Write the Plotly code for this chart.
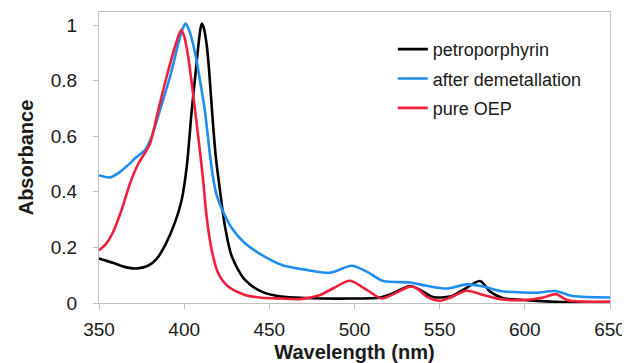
import plotly.graph_objects as go

# Wavelength (nm) sample points and absorbance values for each series
wl_petro = [350, 358, 365, 372, 379, 384, 389, 394.6, 398.5, 401.5, 404.4, 406.4, 408.4, 409.4, 410.3, 411.5, 413.2, 414.6, 416.5, 418.5, 421, 424, 428, 435.7, 445.5, 457, 471, 497, 515, 522.6, 532.6, 538.5, 546, 556, 563.7, 573.7, 579.6, 587.4, 599, 615, 627, 650]
abs_petro = [0.16, 0.145, 0.13, 0.124, 0.135, 0.16, 0.21, 0.29, 0.37, 0.49, 0.69, 0.81, 0.93, 0.98, 1.005, 0.99, 0.93, 0.84, 0.68, 0.53, 0.406, 0.274, 0.167, 0.083, 0.041, 0.023, 0.018, 0.016, 0.02, 0.035, 0.061, 0.047, 0.022, 0.023, 0.047, 0.079, 0.041, 0.017, 0.011, 0.005, 0.002, 0.0]

wl_demet = [350, 356.5, 362, 367, 372, 377, 381, 385.8, 391.7, 396.6, 399, 400.9, 403, 406.4, 409.3, 412.2, 415.2, 417, 419, 422, 428, 435.7, 445.5, 457.3, 471, 485.6, 498.4, 507.2, 517, 532.6, 542.4, 554, 565.9, 575.7, 585.5, 599, 607, 617.8, 628.3, 650]
abs_demet = [0.46, 0.452, 0.47, 0.496, 0.525, 0.55, 0.6, 0.694, 0.814, 0.934, 0.985, 1.005, 0.98, 0.9, 0.8, 0.69, 0.53, 0.45, 0.39, 0.34, 0.269, 0.215, 0.173, 0.137, 0.12, 0.109, 0.134, 0.113, 0.079, 0.074, 0.062, 0.052, 0.067, 0.059, 0.043, 0.038, 0.037, 0.043, 0.025, 0.02]

wl_oep = [350, 354, 358, 363, 368.2, 373, 377, 380, 384.8, 389.7, 394.6, 398.2, 400, 402.5, 406.4, 409, 411, 413.2, 416.2, 420, 425.9, 435.7, 445.5, 457, 468, 479.8, 487.6, 497.4, 507.2, 516, 522.8, 532.6, 536.5, 542.4, 550.2, 556, 565.9, 575.7, 585.5, 599, 610.8, 618.3, 624.6, 634.4, 650]
abs_oep = [0.19, 0.212, 0.252, 0.33, 0.43, 0.5, 0.54, 0.574, 0.694, 0.814, 0.922, 0.982, 0.96, 0.88, 0.694, 0.56, 0.45, 0.31, 0.19, 0.107, 0.059, 0.029, 0.019, 0.016, 0.014, 0.029, 0.053, 0.08, 0.047, 0.016, 0.032, 0.059, 0.053, 0.023, 0.008, 0.019, 0.044, 0.029, 0.014, 0.011, 0.02, 0.032, 0.011, 0.005, 0.005]

series_names = ["petroporphyrin", "after demetallation", "pure OEP"]
x_ticks = [350, 400, 450, 500, 550, 600, 650]
y_ticks = [0, 0.2, 0.4, 0.6, 0.8, 1]
y_tick_text = ["0", "0.2", "0.4", "0.6", "0.8", "1"]

colors = ["#000000", "#1E8EF0", "#F0203C"]
series = [(wl_petro, abs_petro), (wl_demet, abs_demet), (wl_oep, abs_oep)]

fig = go.Figure()
for (x, y), name, c in zip(series, series_names, colors):
    fig.add_trace(go.Scatter(
        x=x, y=y, mode="lines", name=name, legendgroup=name,
        line=dict(color=c, width=2.6, shape="spline", smoothing=0.8),
    ))

axis_color = "#BFBFBF"
# page body has an 8px margin, so the figure is sized/margined to compensate
fig.update_layout(
    width=622, height=355,
    margin=dict(l=91, r=20, t=4, b=60),
    paper_bgcolor="white", plot_bgcolor="white",
    font=dict(family="Liberation Sans, Arial, sans-serif", size=19, color="#1a1a1a"),
    showlegend=True,
    legend=dict(
        x=0.575, y=0.935, xanchor="left", yanchor="top",
        font=dict(size=18, color="#1a1a1a"),
        bgcolor="rgba(0,0,0,0)", tracegroupgap=3,
    ),
)
fig.update_xaxes(
    range=[350, 650], tickvals=x_ticks, showgrid=False, zeroline=False,
    showline=True, linecolor=axis_color, linewidth=1, mirror=True,
    ticks="outside", ticklen=5, tickcolor=axis_color, automargin=False,
    ticklabelstandoff=4,
    title=dict(text="<b>Wavelength (nm)</b>", font=dict(size=20), standoff=8),
)
fig.update_yaxes(
    range=[0, 1.047], tickvals=y_ticks, ticktext=y_tick_text, showgrid=False, zeroline=False,
    showline=True, linecolor=axis_color, linewidth=1, mirror=True,
    ticks="outside", ticklen=5, tickcolor=axis_color, automargin=False,
    ticklabelstandoff=12,
    title=dict(text="<b>Absorbance</b>", font=dict(size=20), standoff=11),
)

fig.write_html("out.html")
